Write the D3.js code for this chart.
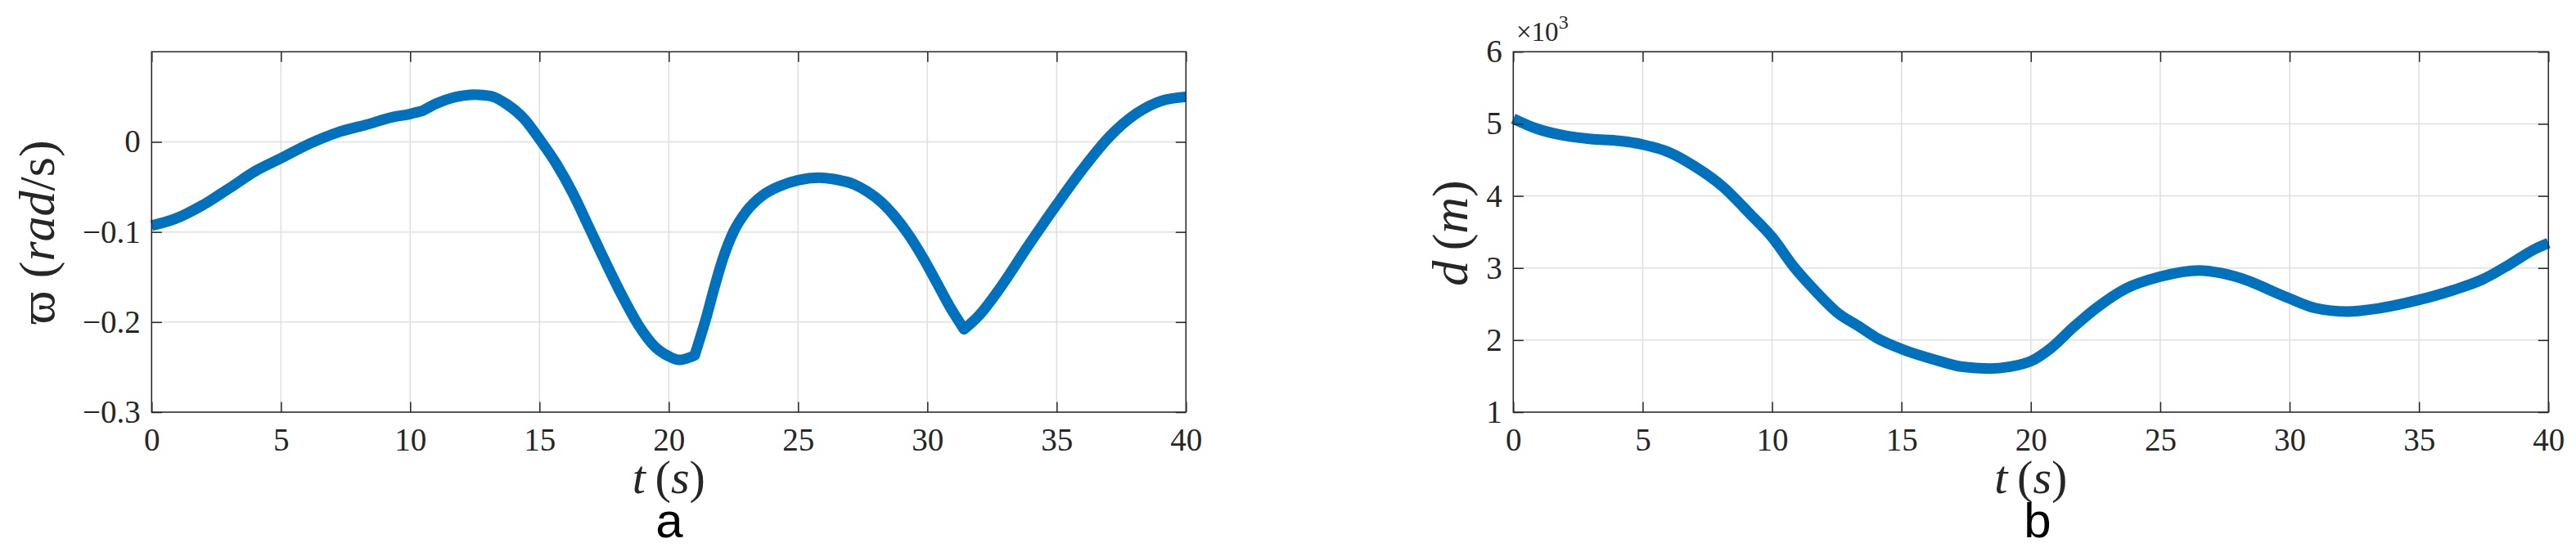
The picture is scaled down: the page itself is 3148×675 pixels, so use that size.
<!DOCTYPE html>
<html>
<head>
<meta charset="utf-8">
<script src="https://cdn.jsdelivr.net/npm/d3@7/dist/d3.min.js"></script>
<style>
  html, body { margin: 0; padding: 0; background: #fff; }
  svg { display: block; }
</style>
</head>
<body>
<svg id="chart" width="3148" height="675"></svg>
<script>
// ---- Data ----
// Panel a: angular rate varpi (rad/s) vs time t (s)
const tA = [0, 0.9, 1.95, 3, 4.05, 5, 6.15, 7.2, 8.3, 9.3, 10, 10.5, 11, 11.7, 12.5, 13.1, 13.75, 14.4, 15, 15.65, 16.3, 16.9, 17.55, 18.2, 18.85, 19.45, 20, 20.4, 21.0, 21.45, 21.75, 22.1, 22.5, 23.0, 23.6, 24.3, 25.0, 25.8, 26.5, 27.15, 27.68, 28.2, 28.73, 29.26, 29.79, 30.32, 30.84, 31.42, 32, 32.85, 33.9, 35, 36, 37.05, 38.1, 39.05, 40];
const varpi = [-0.093, -0.0855, -0.0706, -0.0515, -0.0318, -0.0182, -0.0015, 0.0106, 0.019, 0.0273, 0.031, 0.0348, 0.0424, 0.0494, 0.0525, 0.051, 0.0415, 0.0257, 0.003, -0.0243, -0.0576, -0.094, -0.1334, -0.171, -0.2045, -0.227, -0.238, -0.242, -0.237, -0.195, -0.163, -0.129, -0.100, -0.077, -0.060, -0.049, -0.0425, -0.0398, -0.042, -0.047, -0.0552, -0.0664, -0.0824, -0.1025, -0.1267, -0.154, -0.1815, -0.208, -0.1925, -0.1606, -0.1152, -0.0697, -0.0304, 0.006, 0.0318, 0.0455, 0.05];
// times where the varpi curve has a corner
const kinksA = [10.5, 21.0, 31.42];
// Panel b: distance d (m) vs time t (s)
const tB = [0, 0.9, 2, 3, 4.1, 5, 6, 7, 8.1, 9.15, 10, 10.85, 11.7, 12.5, 13.4, 14.05, 15, 16.3, 17.3, 18.4, 19.2, 20, 20.8, 21.65, 22.6, 23.65, 25, 26.5, 27.35, 28.4, 29.45, 30, 31, 32.2, 33.5, 35, 36.3, 37.45, 38.5, 39.45, 40];
const dist = [5073, 4934, 4835, 4789, 4763, 4713, 4608, 4412, 4128, 3749, 3428, 3012, 2671, 2388, 2180, 2029, 1877, 1726, 1632, 1605, 1632, 1707, 1896, 2180, 2463, 2710, 2880, 2966, 2929, 2823, 2660, 2577, 2444, 2396, 2444, 2558, 2691, 2841, 3050, 3258, 3345];
const kinksB = [];

const xTicks = [0, 5, 10, 15, 20, 25, 30, 35, 40];
const yTicksA = [-0.3, -0.2, -0.1, 0];
const yTicksB = [1000, 2000, 3000, 4000, 5000, 6000];
const panelLetters = ["a", "b"];

// ---- Layout ----
const svg = d3.select("#chart");
const yTop = 63.3, yBot = 504;
const AX = "#262626", GRID = "#dfdfdf", LINE = "#0072BD";
const tickLen = 12.5;
const tickFont = 39;
const SERIF = "'Liberation Serif','DejaVu Serif',serif";

function panel(opts) {
  const g = svg.append("g");
  const x = d3.scaleLinear().domain([0, 40]).range([opts.x0, opts.x1]);
  const y = d3.scaleLinear().domain(opts.yDomain).range([yBot, yTop]);

  // grid
  g.append("g").selectAll("line").data(xTicks).join("line")
    .attr("x1", d => x(d)).attr("x2", d => x(d)).attr("y1", yTop).attr("y2", yBot)
    .attr("stroke", GRID).attr("stroke-width", 1.5);
  g.append("g").selectAll("line").data(opts.yTicks).join("line")
    .attr("x1", opts.x0).attr("x2", opts.x1).attr("y1", d => y(d)).attr("y2", d => y(d))
    .attr("stroke", GRID).attr("stroke-width", 1.5);

  // data line: smooth pieces joined at corners
  const pts = d3.zip(opts.t, opts.v);
  const line = d3.line().x(d => x(d[0])).y(d => y(d[1])).curve(d3.curveMonotoneX);
  const cuts = [opts.t[0], ...opts.kinks, opts.t[opts.t.length - 1]];
  let dStr = "";
  for (let i = 0; i < cuts.length - 1; i++) {
    const seg = pts.filter(p => p[0] >= cuts[i] && p[0] <= cuts[i + 1]);
    const s = line(seg);
    dStr += (i === 0) ? s : s.replace(/^M[^A-Za-z]*/, "");
  }
  g.append("path").attr("d", dStr).attr("fill", "none").attr("stroke", LINE)
    .attr("stroke-width", 13).attr("stroke-linejoin", "round").attr("stroke-linecap", "butt");

  // axes (inward ticks, box on all sides)
  const bottomAxis = d3.axisBottom(x).tickValues(xTicks).tickSizeInner(-tickLen).tickSizeOuter(0).tickPadding(19).tickFormat(d3.format("d"));
  const topAxis = d3.axisTop(x).tickValues(xTicks).tickSizeInner(-tickLen).tickSizeOuter(0).tickFormat("");
  const leftAxis = d3.axisLeft(y).tickValues(opts.yTicks).tickSizeInner(-tickLen).tickSizeOuter(0).tickPadding(13.5).tickFormat(opts.yFormat);
  const rightAxis = d3.axisRight(y).tickValues(opts.yTicks).tickSizeInner(-tickLen).tickSizeOuter(0).tickFormat("");

  const styleAxis = sel => {
    sel.select(".domain").remove();
    sel.selectAll(".tick line").attr("stroke", AX).attr("stroke-width", 1.5);
    sel.selectAll(".tick text").attr("fill", AX)
      .style("font-size", tickFont + "px").style("font-family", SERIF);
  };
  g.append("g").attr("transform", `translate(0,${yBot})`).call(bottomAxis).call(styleAxis);
  g.append("g").attr("transform", `translate(0,${yTop})`).call(topAxis).call(styleAxis);
  g.append("g").attr("transform", `translate(${opts.x0},0)`).call(leftAxis).call(styleAxis);
  g.append("g").attr("transform", `translate(${opts.x1},0)`).call(rightAxis).call(styleAxis);

  // box
  g.append("rect").attr("x", opts.x0).attr("y", yTop).attr("width", opts.x1 - opts.x0).attr("height", yBot - yTop)
    .attr("fill", "none").attr("stroke", AX).attr("stroke-width", 1.5);

  // x label: t (s)
  const xl = g.append("text").attr("x", (opts.x0 + opts.x1) / 2).attr("y", 603)
    .attr("text-anchor", "middle").attr("fill", AX)
    .style("font-family", SERIF).style("font-size", "58px");
  xl.append("tspan").style("font-style", "italic").text("t");
  xl.append("tspan").text("\u2009(");
  xl.append("tspan").style("font-style", "italic").text("s");
  xl.append("tspan").text(")");

  // panel letter
  g.append("text").attr("x", opts.letterX).attr("y", 657).attr("text-anchor", "middle")
    .attr("fill", "#000").style("font-family", "'Liberation Sans', Arial, sans-serif").style("font-size", "60px")
    .text(opts.letter);

  return { g, x, y };
}

panel({ x0: 185.3, x1: 1449.3, yDomain: [-0.3, 0.1], yTicks: yTicksA, t: tA, v: varpi, kinks: kinksA,
  yFormat: d3.format(""), letter: panelLetters[0], letterX: 818 });
panel({ x0: 1849.3, x1: 3114.3, yDomain: [1000, 6000], yTicks: yTicksB, t: tB, v: dist, kinks: kinksB,
  yFormat: d => d3.format("d")(d / 1000), letter: panelLetters[1], letterX: 2490 });

// y label a: varpi (rad/s)
const yla = svg.append("text").attr("transform", "translate(66,284) rotate(-90)")
  .attr("text-anchor", "middle").attr("fill", AX)
  .style("font-family", SERIF).style("font-size", "62px");
yla.append("tspan").text("\u03D6 (");
yla.append("tspan").style("font-style", "italic").text("rad");
yla.append("tspan").text("/s)");

// y label b: d (m)
const ylb = svg.append("text").attr("transform", "translate(1793,285) rotate(-90)")
  .attr("text-anchor", "middle").attr("fill", AX)
  .style("font-family", SERIF).style("font-size", "62px");
ylb.append("tspan").style("font-style", "italic").text("d");
ylb.append("tspan").text("\u2009(");
ylb.append("tspan").style("font-style", "italic").text("m");
ylb.append("tspan").text(")");

// exponent label x10^3
const ex = svg.append("text").attr("x", 1853).attr("y", 50).attr("fill", AX)
  .style("font-family", SERIF).style("font-size", "33px");
ex.append("tspan").text("\u00D710");
ex.append("tspan").attr("dy", -15).style("font-size", "24px").text("3");
</script>
</body>
</html>
